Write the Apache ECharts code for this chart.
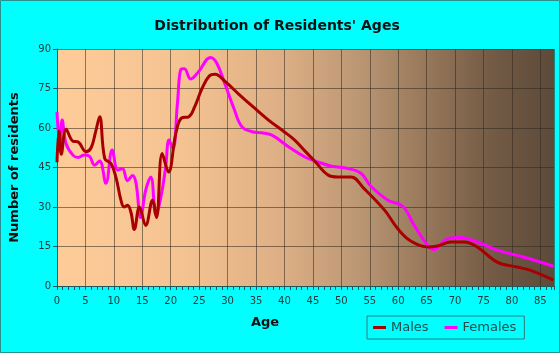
<!DOCTYPE html>
<html>
<head>
<meta charset="utf-8">
<script src="https://cdn.jsdelivr.net/npm/echarts@6/dist/echarts.min.js"></script>
<style>
html,body{margin:0;padding:0;background:#00FFFF;}
#c{width:560px;height:353px;}
</style>
</head>
<body>
<div id="c"></div>
<script>
var titleText = "Distribution of Residents' Ages";
var seriesNames = ["Males", "Females"];
var yTicks = [0, 15, 30, 45, 60, 75, 90];

var maleAges = [0,0.35,0.75,1.6,2.8,3.7,5.1,6.0,6.8,7.5,8.4,9.5,10.4,11.2,11.8,12.4,13.0,13.6,14.5,15.6,16.8,17.5,18.5,19.6,20.9,21.9,23.2,24.2,25.5,26.8,27.8,29.6,31.9,34.5,37.2,40,41.8,43.5,45.3,47.7,49.4,51.7,54,57.6,59.9,62.2,65.4,66.9,69.2,71.6,73.9,77.4,80.9,83.2,87.3];
var maleValues = [47,59,50,59.5,55,54.7,51,52.5,58.6,64.3,48.4,46.5,41,33,30,30.7,28,21.5,30,23,32.6,26,50.3,43.3,58,63.8,64.3,68,75,79.8,80.4,77.6,73,68,63,58.5,55.4,51.5,47.5,42.1,41.4,41.4,37,28.8,21.8,17.1,14.8,15.2,16.7,16.7,14.8,9.1,7.2,6,2.2];

var femaleAges = [0,0.5,0.9,1.6,2.8,3.7,4.8,5.7,6.6,7.5,8.6,9.7,10.7,11.5,12.4,13.3,13.9,14.7,15.6,16.5,17.4,18.2,19.1,19.7,20.4,21.2,21.8,22.4,23.5,24.9,27.0,28.1,29.6,31.1,32.5,34.3,36,37.8,40.7,43.6,45.9,48.3,51.2,53.5,55.2,58.2,60.8,62.8,65.4,66.3,68.7,71,73.9,77.4,82,87.3];
var femaleValues = [66,54,63,54,49.7,48.8,49.7,49.3,45.9,47.5,39,51.6,44,44.6,40,42,39,26,36.4,41.4,27,33,45,55.4,52.2,70,82.3,82.5,78.6,81.4,86.8,84.6,76.3,67.5,60.5,58.6,58.2,57.3,52.9,49,47.1,45.5,44.6,42.7,37.9,32.6,30.3,23.1,14.8,13.8,18,18.4,16.7,13.6,11,7.5];

function pairs(xs, ys){ return xs.map(function(x,i){ return [x, ys[i]]; }); }

var chart = echarts.init(document.getElementById('c'));
var axisColor = '#1f5a5a';
var labelColor = '#223c3c';
chart.setOption({
  backgroundColor: '#00FFFF',
  animation: false,
  title: {
    text: titleText,
    left: 272, top: 14, textAlign: 'center',
    textStyle: {fontFamily: 'DejaVu Sans', fontWeight: 'bold', fontSize: 14, color: '#111'}
  },
  grid: {
    left: 54, right: 6, top: 49, bottom: 67,
    show: true, borderWidth: 0,
    backgroundColor: new echarts.graphic.LinearGradient(0, 0, 1, 0, [
      {offset: 0, color: '#FDCC99'},
      {offset: 0.25, color: '#F4C391'},
      {offset: 0.45, color: '#DEAF85'},
      {offset: 0.6, color: '#BC9875'},
      {offset: 0.75, color: '#957659'},
      {offset: 0.88, color: '#725A45'},
      {offset: 1, color: '#5C4A39'}
    ])
  },
  legend: {
    left: 367, top: 316,
    orient: 'horizontal',
    icon: 'rect', itemWidth: 13, itemHeight: 3, itemGap: 16,
    borderColor: '#2a7f7f', borderWidth: 1, padding: [5, 8, 5, 6],
    textStyle: {fontFamily: 'DejaVu Sans', fontSize: 13, color: '#1f4f4f'},
    data: seriesNames
  },
  graphic: [
    {type: 'text', left: 251, top: 316, style: {text: 'Age', font: 'bold 13px "DejaVu Sans"', fill: '#111'}},
    {type: 'rect', shape: {x: 0.5, y: 0.5, width: 559, height: 352}, style: {fill: null, stroke: '#2a8f8f', lineWidth: 1}, silent: true}
  ],
  xAxis: {
    type: 'value', min: 0, max: 87.4, interval: 5,
    axisLine: {show: true, lineStyle: {color: axisColor}},
    axisTick: {show: true, length: 4, lineStyle: {color: axisColor}},
    minorTick: {show: true, splitNumber: 5, length: 4, lineStyle: {color: axisColor}},
    axisLabel: {margin: 10, fontFamily: 'DejaVu Sans', fontSize: 10, color: labelColor, showMaxLabel: false},
    splitLine: {show: true, lineStyle: {color: 'rgba(50,40,30,0.55)', width: 1}}
  },
  yAxis: {
    type: 'value', min: yTicks[0], max: yTicks[yTicks.length-1], interval: 15,
    name: 'Number of residents', nameLocation: 'middle', nameGap: 36,
    nameTextStyle: {fontFamily: 'DejaVu Sans', fontWeight: 'bold', fontSize: 13, color: '#111'},
    axisLine: {show: true, lineStyle: {color: axisColor}},
    axisTick: {show: true, length: 4, lineStyle: {color: axisColor}},
    axisLabel: {margin: 6, fontFamily: 'DejaVu Sans', fontSize: 10, color: labelColor},
    splitLine: {show: true, lineStyle: {color: 'rgba(50,40,30,0.55)', width: 1}}
  },
  series: [
    {name: seriesNames[0], type: 'line', data: pairs(maleAges, maleValues), smooth: 0.4, showSymbol: false,
     lineStyle: {color: '#A80000', width: 3}, itemStyle: {color: '#A80000'}, z: 3},
    {name: seriesNames[1], type: 'line', data: pairs(femaleAges, femaleValues), smooth: 0.4, showSymbol: false,
     lineStyle: {color: '#FF00FF', width: 3}, itemStyle: {color: '#FF00FF'}, z: 2}
  ]
});
</script>
</body>
</html>
